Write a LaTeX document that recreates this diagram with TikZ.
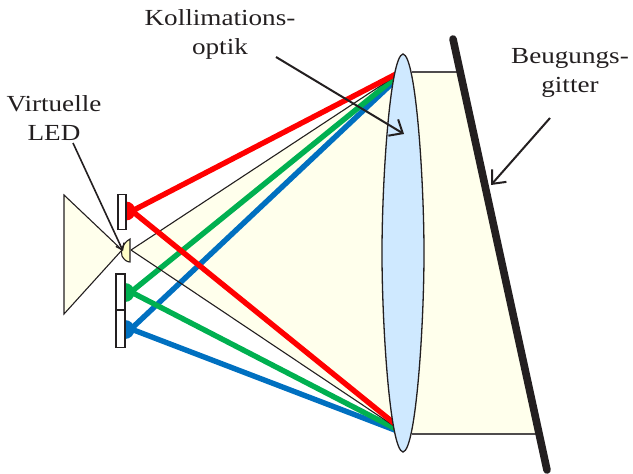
\documentclass[tikz,border=0pt]{standalone}
\usepackage{fontspec}
\setmainfont[FakeStretch=1.18]{Liberation Serif}
\usetikzlibrary{arrows.meta}
\definecolor{beamfill}{HTML}{FFFFEC}
\definecolor{smallfill}{HTML}{FFFFC8}
\definecolor{lensfill}{HTML}{CFE9FF}
\definecolor{ink}{HTML}{231F20}
\definecolor{redray}{HTML}{FF0000}
\definecolor{greenray}{HTML}{00B050}
\definecolor{blueray}{HTML}{0070C0}
\tikzset{
  thinline/.style={draw=ink,line width=1.1pt},
  ray/.style={line width=5.4pt},
  ledbox/.style={draw=ink,line width=1.2pt,fill=white},
  pointer/.style={draw=ink,line width=2pt,-{Straight Barb[length=11pt,width=19pt,line width=2pt]}},
  caption/.style={font=\fontsize{23}{29}\selectfont,align=center,text=ink,inner sep=0pt},
}
\begin{document}
\begin{tikzpicture}[x=1pt,y=-1pt]
\useasboundingbox (0,0) rectangle (633,474);
% anchor points
\coordinate (src) at (131,250);
\coordinate (lensT) at (400,73);
\coordinate (lensB) at (400,430);
\coordinate (ledR) at (132,211);
\coordinate (ledG) at (131,292);
\coordinate (ledB) at (131,329);
% beams
\fill[beamfill] (src) -- (392,77) -- (392,424) -- cycle;
\fill[beamfill] (403,72) -- (460,72) -- (542,434) -- (403,434) -- cycle;
\draw[thinline,draw=ink!80] (412,72) -- (460,72);
\draw[thinline,draw=ink!80] (412,434) -- (541,434);
\draw[thinline,fill=beamfill] (122,250) -- (64,195) -- (64,314) -- cycle;
% rays
\draw[ray,blueray] (400,76) -- (ledB) -- (400,432);
\draw[ray,greenray] (400,74) -- (ledG) -- (400,431);
\draw[thinline] (src) -- (lensT);
\draw[thinline] (src) -- (lensB);
\draw[ray,redray] (400,72) -- (ledR) -- (400,428);
% LEDs
\fill[redray] (126,201.5) arc (-90:90:9.5) -- cycle;
\fill[greenray] (125,283) arc (-90:90:9.5) -- cycle;
\fill[blueray] (125,320) arc (-90:90:9.5) -- cycle;
\node[ledbox,minimum width=8pt,minimum height=35pt,inner sep=0pt] (boxR) at (122,212) {};
\node[ledbox,minimum width=9pt,minimum height=36pt,inner sep=0pt] (boxG) at (120.5,292) {};
\node[ledbox,minimum width=9pt,minimum height=37pt,inner sep=0pt] (boxB) at (120.5,329) {};
% small lens
\draw[thinline,fill=smallfill] (130,239) .. controls (123,243) and (120,250) .. (122,256) .. controls (124,260) and (127,262) .. (130,262) -- cycle;
% collimating lens
\draw[draw=ink,line width=1.3pt,fill=lensfill] (403,54) .. controls (390,56) and (382,180) .. (382,253) .. controls (382,326) and (390,450) .. (403,452) .. controls (416,450) and (424,326) .. (424,253) .. controls (424,180) and (416,56) .. (403,54) -- cycle;
% grating
\draw[draw=ink,line width=7.6pt,line cap=round] (453,39) -- (547,470);
% labels
\node[caption] (kolli) at (220,34) {Kollimations-\\optik};
\node[caption] (beug) at (570,73) {Beugungs-\\gitter};
\node[caption] (vled) at (54,118) {Virtuelle\\LED};
% pointers
\coordinate (kolliS) at (276,57);
\coordinate (kolliE) at (404,134);
\coordinate (beugS) at (550,118);
\coordinate (beugE) at (491,185);
\coordinate (vledS) at (73,143);
\coordinate (vledE) at (123,251);
\draw[pointer] (kolliS) -- (kolliE);
\draw[pointer] (beugS) -- (beugE);
\draw[draw=ink,line width=1.6pt,-{Straight Barb[length=6pt,width=9pt,line width=1.4pt]}] (vledS) -- (vledE);
\end{tikzpicture}
\end{document}
